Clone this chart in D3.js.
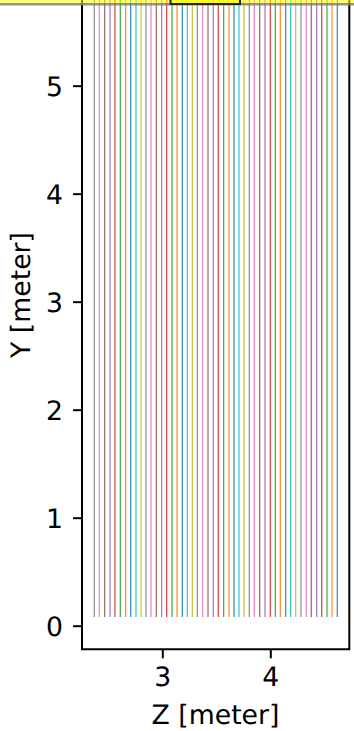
<!DOCTYPE html>
<html>
<head>
<meta charset="utf-8">
<script src="https://cdn.jsdelivr.net/npm/d3@7"></script>
<style>
html,body{margin:0;padding:0;background:#fff;overflow:hidden}
text{font-family:"DejaVu Sans",sans-serif;fill:#000;text-rendering:geometricPrecision}
</style>
</head>
<body>
<svg id="c" width="354" height="731"></svg>
<script>
const zValues = [2.3704,2.4167,2.4667,2.5157,2.5620,2.6111,2.6611,2.7074,2.7565,2.8028,2.8491,2.8954,2.9444,2.9944,3.0407,3.0898,3.1361,3.1852,3.2315,3.2778,3.3241,3.3741,3.4231,3.4722,3.5185,3.5685,3.6176,3.6639,3.7102,3.7565,3.8056,3.8519,3.9019,3.9509,4.0000,4.0463,4.0926,4.1426,4.1889,4.2352,4.2843,4.3333,4.3796,4.4296,4.4759,4.5250,4.5713,4.6204];
const lineColors = ["#7f7f7f","#e377c2","#8c564b","#9467bd","#d62728","#2ca02c","#ff7f0e","#1f77b4","#17becf","#bcbd22"];
const yRange = [0.08, 5.8];
const xTicks = [3,4];
const yTicks = [0,1,2,3,4,5];
const xLabel = "Z [meter]";
const yLabel = "Y [meter]";

const svg = d3.select("#c");
const x = d3.scaleLinear().domain([2.2565,4.7315]).range([82,349.3]);
const y = d3.scaleLinear().domain([-0.2185,5.77]).range([649.3,2.5]);

svg.selectAll("line.z").data(zValues).join("line").attr("class","z")
  .attr("x1",d=>x(d)).attr("x2",d=>x(d))
  .attr("y1",y(yRange[0])).attr("y2",y(yRange[1]))
  .attr("stroke",(d,i)=>lineColors[i%lineColors.length])
  .attr("stroke-opacity",0.95)
  .attr("stroke-width",1.15);

function styleAxis(g){
  g.selectAll(".domain").remove();
  g.selectAll(".tick line").attr("stroke","#000").attr("stroke-width",2);
  g.selectAll(".tick text").attr("font-size",26.7).attr("font-family","DejaVu Sans").attr("fill","#000");
}
svg.append("g").attr("transform","translate(0,649.3)")
  .call(d3.axisBottom(x).tickValues(xTicks).tickFormat(d3.format("d")).tickSize(9).tickPadding(9)).call(styleAxis);
svg.append("g").attr("transform","translate(82,0)")
  .call(d3.axisLeft(y).tickValues(yTicks).tickFormat(d3.format("d")).tickSize(9).tickPadding(10)).call(styleAxis)
  .selectAll(".tick text").attr("dy","0.36em");

svg.append("path").attr("fill","none").attr("stroke","#000").attr("stroke-width",2)
  .attr("d",`M82,0V649.3H349.3V0`);

// highlight band at the top edge
svg.append("rect").attr("x",0).attr("y",0).attr("width",354).attr("height",3).attr("fill","#ffff00").attr("fill-opacity",0.55);
svg.append("rect").attr("x",0).attr("y",3).attr("width",354).attr("height",2.5).attr("fill","#808080").attr("fill-opacity",0.85);
svg.append("rect").attr("x",170).attr("y",0).attr("width",70).attr("height",3).attr("fill","#ffff00").attr("fill-opacity",0.8);
svg.append("path").attr("fill","none").attr("stroke","#222").attr("stroke-width",2).attr("d","M170.5,0V4H240V0");

svg.append("text").attr("x",215.5).attr("y",724).attr("text-anchor","middle").attr("font-size",26.7).text(xLabel);
svg.append("text").attr("transform","translate(30,295) rotate(-90)").attr("text-anchor","middle").attr("font-size",26.7).text(yLabel);
</script>
</body>
</html>
